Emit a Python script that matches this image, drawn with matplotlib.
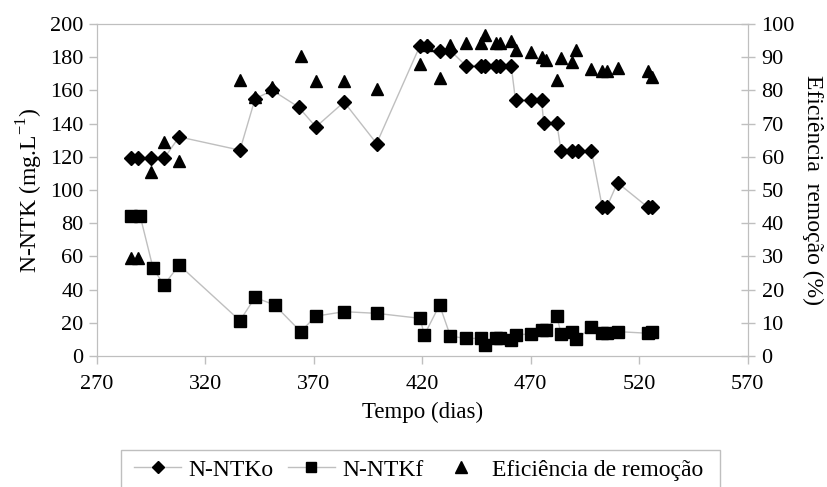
import matplotlib
matplotlib.use("Agg")
import matplotlib.pyplot as plt
from matplotlib.lines import Line2D
from matplotlib.patches import Rectangle

plt.rcParams['font.family'] = ['Liberation Serif', 'DejaVu Serif']
plt.rcParams['mathtext.fontset'] = 'custom'
plt.rcParams['mathtext.rm'] = 'Liberation Serif'

# N-NTK afluente (diamonds)
dias_o = [286, 289, 295, 301, 308, 336, 343, 351, 363, 371, 384, 399, 419, 422,
          428, 433, 440, 447, 449, 454, 456, 461, 463, 470, 475, 476, 482, 484,
          489, 492, 498, 503, 505, 510, 524, 526]
ntk_o = [119, 119, 119, 119, 132, 124, 155, 160, 150, 138, 153, 128, 187, 187,
         184, 184, 175, 175, 175, 175, 175, 175, 154, 154, 154, 140.5, 140.5, 123.5,
         123.5, 123.5, 123.5, 89.6, 89.6, 104.4, 89.6, 89.6]

# N-NTK efluente (squares)
dias_f = [286, 290, 296, 301, 308, 336, 343, 352, 364, 371, 384, 399, 419, 421,
          428, 433, 440, 447, 449, 454, 456, 461, 463, 470, 475, 477, 482, 484,
          489, 491, 498, 503, 505, 510, 524, 526]
ntk_f = [84.5, 84.5, 52.8, 42.8, 54.8, 21.3, 35.3, 30.7, 14.7, 24, 26.7, 25.7, 22.7, 12.7,
         30.7, 12, 10.6, 10.6, 6.6, 10.6, 10.6, 9.6, 12.7, 13.3, 15.7, 15.7, 24.3, 13.3,
         14.7, 10, 17.3, 13.7, 13.7, 14.7, 13.7, 14.7]

# Eficiencia de remocao (%) (triangles)
dias_e = [286, 289, 295, 301, 308, 336, 343, 351, 364, 371, 384, 399, 419, 422,
          428, 433, 440, 447, 449, 454, 456, 461, 463, 470, 475, 477, 482, 484,
          489, 491, 498, 503, 505, 510, 524, 526]
efic = [29.4, 29.4, 55.5, 64.5, 58.8, 83.1, 78, 81, 90.5, 82.8, 82.8, 80.3, 88, 93.7,
        83.6, 93.7, 94.2, 94.2, 96.7, 94.2, 94.2, 95, 92.2, 91.7, 90.2, 89.2, 83.1, 89.7,
        88.6, 92.2, 86.3, 85.9, 85.9, 86.6, 85.9, 83.9]

gray = '#bfbfbf'
fs = 16

fig = plt.figure(figsize=(8.28, 4.87), dpi=100)
ax = fig.add_axes([96.7 / 828, 1 - 356 / 487, (747.7 - 96.7) / 828, (356 - 24) / 487])
ax2 = ax.twinx()

ax.plot(dias_o, ntk_o, color=gray, lw=1, marker='D', ms=7, mfc='black', mec='black', zorder=3)
ax.plot(dias_f, ntk_f, color=gray, lw=1, marker='s', ms=8.5, mfc='black', mec='black', zorder=3)
ax2.plot(dias_e, efic, ls='none', marker='^', ms=9, mfc='black', mec='black')

ax.set_xlim(270, 570)
ax.set_ylim(0, 200)
ax2.set_ylim(0, 100)
ax.set_xticks(range(270, 571, 50))
ax.set_yticks(range(0, 201, 20))
ax2.set_yticks(range(0, 101, 10))

for a in (ax, ax2):
    for s in a.spines.values():
        s.set_color(gray)
    a.tick_params(colors=gray, labelcolor='black', labelsize=fs, length=6, width=1)
ax.tick_params(axis='x', pad=8)
ax2.tick_params(axis='y', direction='inout', length=10, pad=5)

ax.set_xlabel('Tempo (dias)', fontsize=16.5, labelpad=5)
ax.set_ylabel('N-NTK (mg.L$^{\\mathrm{-1}}$)', fontsize=17, labelpad=4)
ax2.set_ylabel('Eficiência  remoção (%)', fontsize=17, rotation=270, labelpad=20)

handles = [
    Line2D([], [], color=gray, lw=1, marker='D', ms=6, mfc='black', mec='black'),
    Line2D([], [], color=gray, lw=1, marker='s', ms=7, mfc='black', mec='black'),
    Line2D([], [], ls='none', marker='^', ms=8, mfc='black', mec='black'),
]
labels = ['N-NTKo', 'N-NTKf', 'Eficiência de remoção']
fig.legend(handles, labels, loc='center left', bbox_to_anchor=(113 / 828, 1 - 470 / 487),
           ncol=3, frameon=False, fontsize=17, handlelength=2.0, handletextpad=0.3,
           columnspacing=0.6)
fig.patches.append(Rectangle((121 / 828, -0.05), (720 - 121) / 828, 0.05 + (487 - 450) / 487,
                             transform=fig.transFigure, fill=False, edgecolor=gray, lw=1))

fig.savefig('out.png', dpi=100)
